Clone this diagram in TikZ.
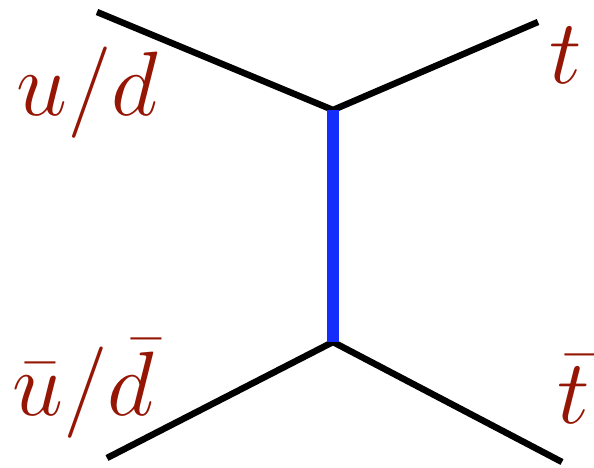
\documentclass[tikz,border=0pt]{standalone}
\usepackage{fix-cm}
\usepackage{amsmath}
\usepackage{tikz}
\definecolor{quarkred}{RGB}{150,22,5}
\definecolor{propblue}{RGB}{20,45,250}

\begin{document}
\begin{tikzpicture}[x=0.025cm,y=-0.025cm,
		leg/.style={line width=4.6pt,black},
		prop/.style={line width=8.8pt,propblue},
		lab/.style={anchor=base west,inner sep=0pt,text=quarkred,font=\fontsize{65}{74}\selectfont}]
			\useasboundingbox (0,0) rectangle (594,468);
			\coordinate (vtop) at (333,110);
			\coordinate (vbot) at (333,342);
			\coordinate (in1) at (97,12);
			\coordinate (in2) at (107,458);
			\coordinate (out1) at (538,22);
			\coordinate (out2) at (562,462);
			\draw[leg] (in1) -- (vtop) -- (out1);
			\draw[leg] (in2) -- (vbot) -- (out2);
			\draw[prop] (vtop) -- (vbot);
			\node[lab] (q) at (16,115) {$u/d$};
			\node[lab] (qbar) at (12,415) {$\bar{u}/\bar{d}$};
			\node[lab] (t) at (549,83) {$t$};
			\node[lab] (tbar) at (557,423) {$\bar{t}$};
		\end{tikzpicture}
\end{document}
